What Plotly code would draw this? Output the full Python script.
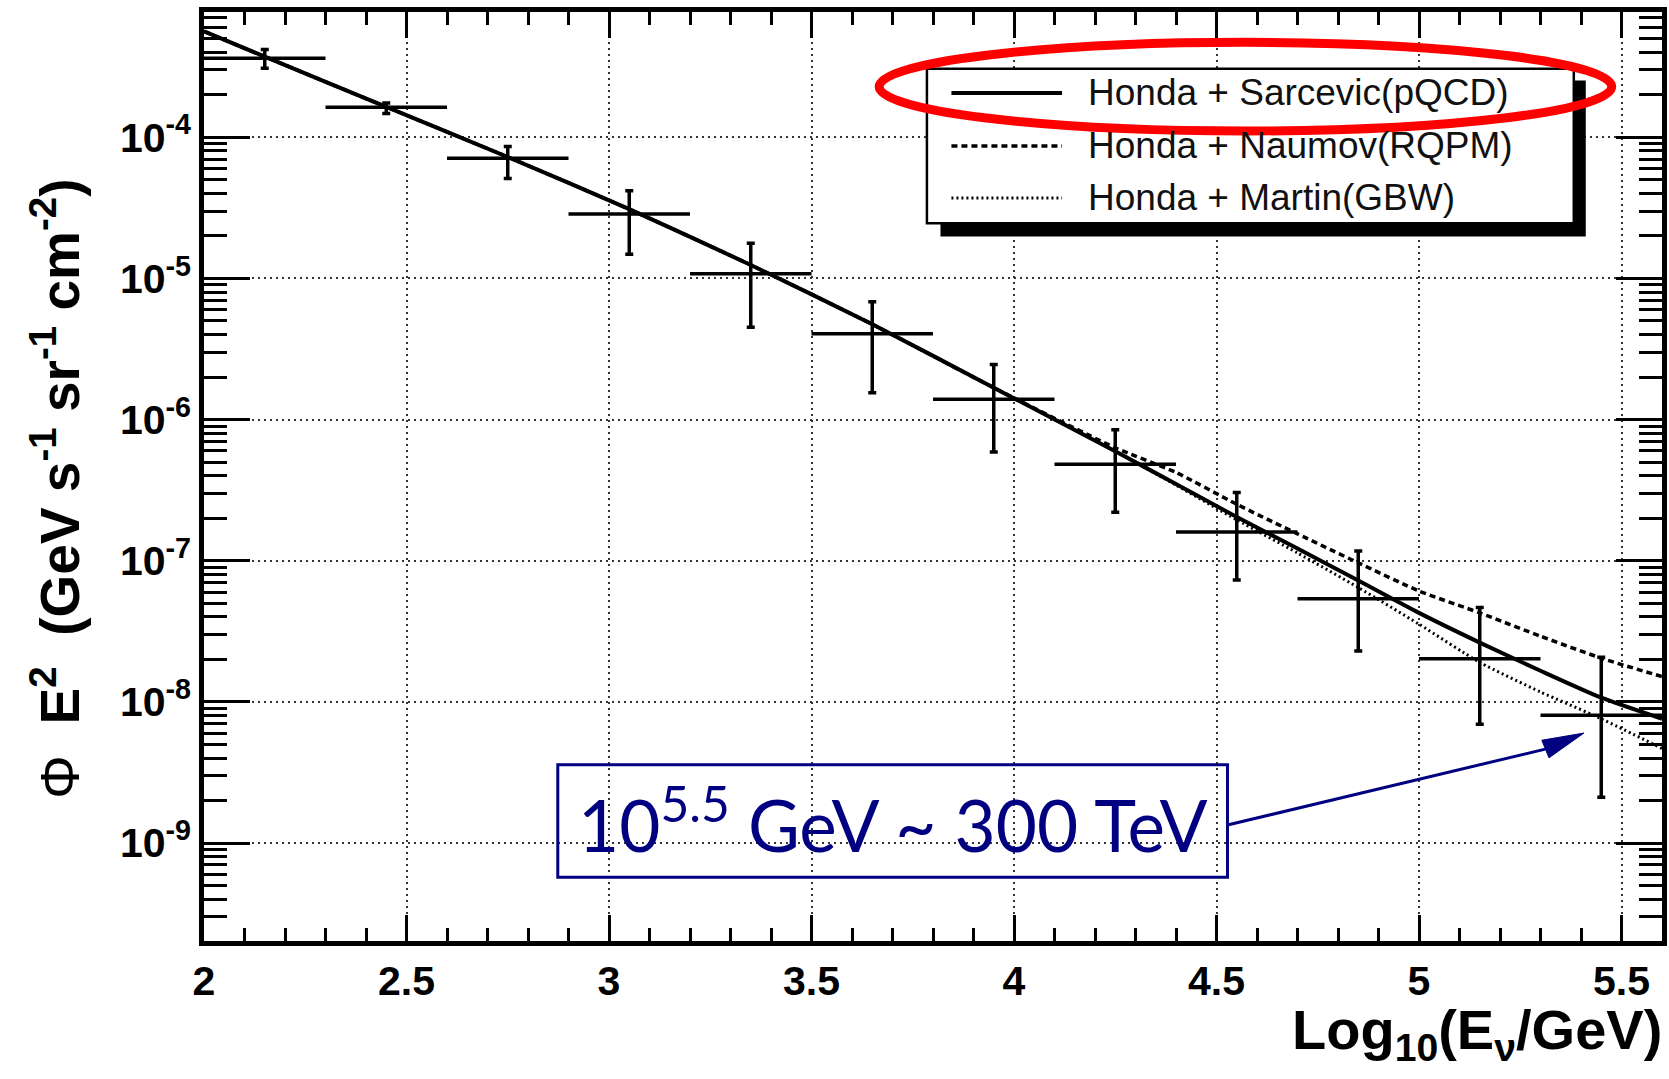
import plotly.graph_objects as go

# ---- measured spectrum: 12 bins in log10(E/GeV), width 0.3 ----
bin_centers = [2.15, 2.45, 2.75, 3.05, 3.35, 3.65, 3.95, 4.25, 4.55, 4.85, 5.15, 5.45]
bin_half_width = [0.15] * 12
flux = [3.63e-4, 1.63e-4, 7.1e-5, 2.86e-5, 1.08e-5, 4.05e-6, 1.39e-6,
        4.82e-7, 1.6e-7, 5.38e-8, 2.02e-8, 8.05e-9]
flux_hi = [4.18e-4, 1.75e-4, 8.6e-5, 4.18e-5, 1.77e-5, 6.83e-6, 2.45e-6,
           8.46e-7, 3.04e-7, 1.17e-7, 4.67e-8, 2.07e-8]
flux_lo = [3.08e-4, 1.47e-4, 5.1e-5, 1.48e-5, 4.5e-6, 1.55e-6, 5.9e-7,
           2.2e-7, 7.3e-8, 2.29e-8, 6.95e-9, 2.11e-9]

# ---- model predictions (conventional Honda flux + prompt models) ----
model_x = [2.0, 2.15, 2.45, 2.75, 3.05, 3.35, 3.65, 3.95, 4.25, 4.4,
           4.55, 4.7, 4.85, 5.0, 5.15, 5.3, 5.45, 5.6]
sarcevic = [5.62e-4, 3.72e-4, 1.64e-4, 7.24e-5, 3.09e-5, 1.245e-5, 4.73e-6, 1.68e-6,
            5.96e-7, 3.49e-7, 2.04e-7, 1.22e-7, 7.24e-8, 4.27e-8, 2.63e-8, 1.66e-8,
            1.07e-8, 7.59e-9]
naumov = [5.62e-4, 3.72e-4, 1.64e-4, 7.24e-5, 3.09e-5, 1.245e-5, 4.73e-6, 1.68e-6,
          6.31e-7, 4.22e-7, 2.51e-7, 1.55e-7, 9.66e-8, 6.10e-8, 4.27e-8, 2.92e-8,
          2.04e-8, 1.51e-8]
martin = [5.62e-4, 3.72e-4, 1.64e-4, 7.24e-5, 3.09e-5, 1.245e-5, 4.73e-6, 1.68e-6,
          5.96e-7, 3.43e-7, 1.95e-7, 1.135e-7, 6.46e-8, 3.55e-8, 1.905e-8, 1.175e-8,
          7.59e-9, 4.68e-9]

model_names = ["Honda + Sarcevic(pQCD)", "Honda + Naumov(RQPM)", "Honda + Martin(GBW)"]
model_dash = ["solid", "6px,4px", "2px,3px"]
model_width = [4.0, 3.5, 3.0]

# ---- axis ticks ----
y_decades = [1e-9, 1e-8, 1e-7, 1e-6, 1e-5, 1e-4]
y_ticktext = ["10<sup>-9</sup>", "10<sup>-8</sup>", "10<sup>-7</sup>",
              "10<sup>-6</sup>", "10<sup>-5</sup>", "10<sup>-4</sup>"]
y_minor = [m * 10.0 ** e for e in range(-10, -3) for m in range(2, 10)]

# ---- canvas geometry (pixels) ----
FIG_W, FIG_H = 1669, 1079
L, R, T, B = 204, 2, 11.5, 138.3
PW = FIG_W - L - R
PH = FIG_H - T - B


def fx(p):
    return (p - L) / PW


def fy(p):
    return 1 - (p - T) / PH


NAVY = "#000080"
FONT = "Liberation Sans, Arial, sans-serif"

fig = go.Figure()

for name, ys, dash, w in zip(model_names, [sarcevic, naumov, martin], model_dash, model_width):
    fig.add_trace(go.Scatter(
        x=model_x, y=ys, mode="lines", name=name, showlegend=False,
        line=dict(color="black", width=w, dash=dash, shape="spline", smoothing=0.6),
    ))

err_plus = [h - c for h, c in zip(flux_hi, flux)]
err_minus = [c - l for c, l in zip(flux, flux_lo)]
fig.add_trace(go.Scatter(
    x=bin_centers, y=flux, mode="markers", name="data", showlegend=False,
    marker=dict(size=1, color="black"),
    error_x=dict(type="data", array=bin_half_width, width=0, thickness=3.5, color="black"),
    error_y=dict(type="data", array=err_plus, arrayminus=err_minus, width=4,
                 thickness=3.5, color="black"),
))

# ---- legend box with drop shadow ----
shapes = [
    dict(type="rect", xref="paper", yref="paper", x0=fx(943), x1=fx(1590.5),
         y0=fy(236), y1=fy(80), fillcolor="black", line=dict(width=0), layer="above"),
    dict(type="rect", xref="paper", yref="paper", x0=fx(929.4), x1=fx(1578.5),
         y0=fy(222.7), y1=fy(68.3), fillcolor="white", line=dict(color="black", width=2.5),
         layer="above"),
]
legend_rows = [92.5, 145.5, 197.5]
annotations = []
for row, name, dash, w in zip(legend_rows, model_names, model_dash, model_width):
    shapes.append(dict(type="line", xref="paper", yref="paper", x0=fx(954), x1=fx(1065),
                       y0=fy(row), y1=fy(row), line=dict(color="black", width=w, dash=dash),
                       layer="above"))
    annotations.append(dict(xref="paper", yref="paper", x=fx(1089), y=fy(row),
                            xanchor="left", yanchor="middle", showarrow=False, text=name,
                            font=dict(family=FONT, size=37, color="#111111")))

# red highlight ellipse around the first legend entry
shapes.append(dict(type="circle", xref="paper", yref="paper", x0=fx(881.5), x1=fx(1616.5),
                   y0=fy(130.5), y1=fy(41.8), line=dict(color="#ff0000", width=9),
                   layer="above"))

# blue callout box and arrow
shapes.append(dict(type="rect", xref="paper", yref="paper", x0=fx(559), x1=fx(1231),
                   y0=fy(877), y1=fy(764.5), line=dict(color=NAVY, width=3), layer="above"))
shapes.append(dict(type="line", xref="paper", yref="paper", x0=fx(1231), y0=fy(824.7),
                   x1=fx(1551), y1=fy(748.5), line=dict(color=NAVY, width=3), layer="above"))
head = [(1588.7, 732.7), (1553.6, 757.5), (1546.4, 739.9)]
path = "M " + " L ".join(f"{fx(a):.5f},{fy(b):.5f}" for a, b in head) + " Z"
shapes.append(dict(type="path", xref="paper", yref="paper", path=path, fillcolor=NAVY,
                   line=dict(color=NAVY, width=1), layer="above"))

annotations.append(dict(xref="paper", yref="paper", x=fx(895), y=fy(820),
                        xanchor="center", yanchor="middle", showarrow=False,
                        text="10<sup>5.5</sup> GeV ~ 300 TeV",
                        font=dict(family="Lato, sans-serif", size=71, color=NAVY)))

# axis titles
annotations.append(dict(xref="paper", yref="paper", x=fx(1669), y=fy(1033),
                        xanchor="right", yanchor="middle", showarrow=False,
                        text="<b>Log<sub>10</sub>(E<sub>ν</sub>/GeV)</b>",
                        font=dict(family=FONT, size=56, color="black")))
annotations.append(dict(xref="paper", yref="paper", x=fx(56), y=fy(489),
                        xanchor="center", yanchor="middle", showarrow=False, textangle=-90,
                        text="Φ  <b>E<sup>2</sup>  (GeV s<sup>-1</sup> sr<sup>-1</sup> cm<sup>-2</sup>)</b>",
                        font=dict(family=FONT, size=55, color="black")))

fig.update_layout(
    width=FIG_W, height=FIG_H,
    margin=dict(l=L, r=R, t=T, b=B, pad=0),
    paper_bgcolor="white", plot_bgcolor="white",
    shapes=shapes, annotations=annotations,
    showlegend=False,
)

fig.update_xaxes(
    range=[2.0, 5.6], tick0=2.0, dtick=0.5,
    showline=True, linecolor="black", linewidth=4.5, mirror="ticks",
    ticks="inside", ticklen=26, tickwidth=3, tickcolor="black",
    tickfont=dict(family=FONT, size=41, color="black", weight="bold"),
    showgrid=True, gridcolor="#333333", gridwidth=1.5, griddash="2px,4px",
    minor=dict(dtick=0.1, ticks="inside", ticklen=13, tickwidth=3, tickcolor="black",
               showgrid=False),
    zeroline=False,
)
fig.update_yaxes(
    type="log", range=[-9.694, -3.113],
    tickmode="array", tickvals=y_decades, ticktext=y_ticktext,
    showline=True, linecolor="black", linewidth=4.5, mirror="ticks",
    ticks="inside", ticklen=46, tickwidth=3, tickcolor="black",
    tickfont=dict(family=FONT, size=41, color="black", weight="bold"),
    showgrid=True, gridcolor="#333333", gridwidth=1.5, griddash="2px,4px",
    minor=dict(tickmode="array", tickvals=y_minor, ticks="inside", ticklen=23,
               tickwidth=3, tickcolor="black", showgrid=False),
    zeroline=False,
)

fig.write_html("out.html")
